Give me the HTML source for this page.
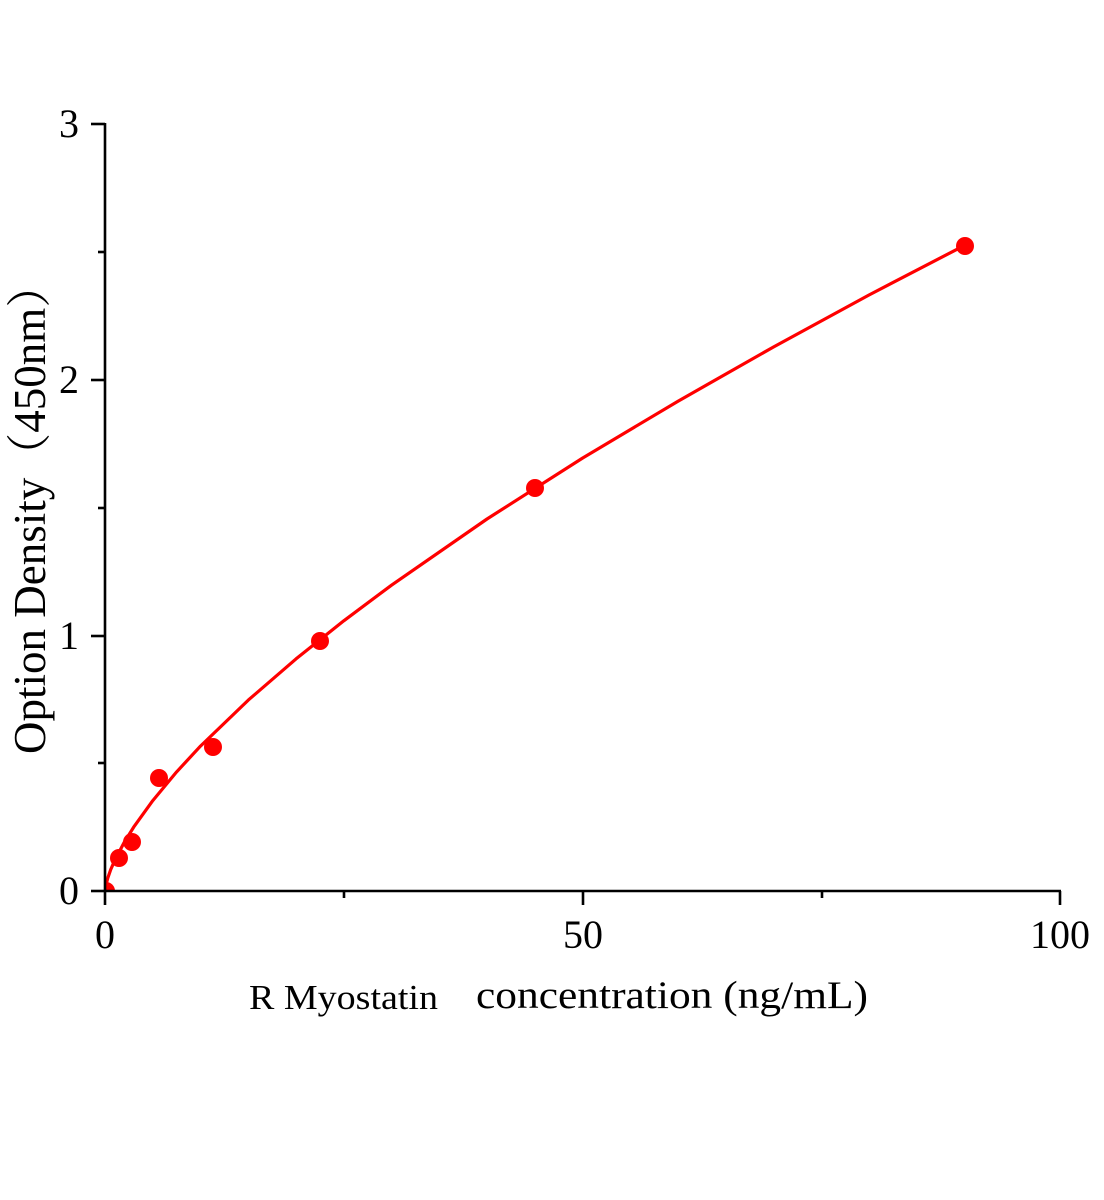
<!DOCTYPE html>
<html>
<head>
<meta charset="utf-8">
<style>
html,body{margin:0;padding:0;background:#fff;}
svg{display:block;}
text{font-family:"Liberation Serif","Noto Serif CJK SC",serif;fill:#000;}
</style>
</head>
<body>
<svg width="1104" height="1200" viewBox="0 0 1104 1200" xmlns="http://www.w3.org/2000/svg">
  <defs>
    <clipPath id="plot"><rect x="105" y="100" width="980" height="791"/></clipPath>
  </defs>
  <rect width="1104" height="1200" fill="#fff"/>
  <g clip-path="url(#plot)">
    <polyline fill="none" stroke="#ff0000" stroke-width="3.2" stroke-linejoin="round" stroke-linecap="round"
      points="105,891 106,884.7 107.9,877.7 110.7,869.6 114.6,860.7 124.1,842.5 133.7,827.1 152.8,800.6 176.6,771.9 200.5,746.1 248.3,700.1 296,658.9 343.8,620.8 391.5,585.2 487,519 582.5,458.1 678,401.2 773.5,347 869,295 964.5,245.4"/>
    <g fill="#ff0000">
      <circle cx="106" cy="891" r="9"/>
      <circle cx="119" cy="858" r="9"/>
      <circle cx="132" cy="842" r="9"/>
      <circle cx="159" cy="778" r="9"/>
      <circle cx="213" cy="747" r="9"/>
      <circle cx="320" cy="641" r="9"/>
      <circle cx="535" cy="488" r="9"/>
      <circle cx="965" cy="246" r="9"/>
    </g>
  </g>
  <g stroke="#000" stroke-width="2.6" fill="none">
    <line x1="105" y1="123" x2="105" y2="892"/>
    <line x1="104" y1="891" x2="1061" y2="891"/>
    <line x1="91" y1="891" x2="105" y2="891"/>
    <line x1="91" y1="636" x2="105" y2="636"/>
    <line x1="91" y1="380" x2="105" y2="380"/>
    <line x1="91" y1="124" x2="105" y2="124"/>
    <line x1="98" y1="763" x2="105" y2="763"/>
    <line x1="98" y1="508" x2="105" y2="508"/>
    <line x1="98" y1="252" x2="105" y2="252"/>
    <line x1="105" y1="891" x2="105" y2="905"/>
    <line x1="583" y1="891" x2="583" y2="905"/>
    <line x1="1060" y1="891" x2="1060" y2="905"/>
    <line x1="344" y1="891" x2="344" y2="898"/>
    <line x1="822" y1="891" x2="822" y2="898"/>
  </g>
  <g font-size="40" text-anchor="end">
    <text x="79" y="904">0</text>
    <text x="79" y="649">1</text>
    <text x="79" y="393">2</text>
    <text x="79" y="137">3</text>
  </g>
  <g font-size="40" text-anchor="middle">
    <text x="105" y="948">0</text>
    <text x="583" y="948">50</text>
    <text x="1060" y="948">100</text>
  </g>
  <text x="249" y="1009" font-size="35" textLength="189" lengthAdjust="spacingAndGlyphs">R Myostatin</text>
  <text x="476" y="1008" font-size="39" textLength="392" lengthAdjust="spacingAndGlyphs">concentration (ng/mL)</text>
  <text transform="translate(45,754) rotate(-90)" font-size="45">Option Density（450nm）</text>
</svg>
</body>
</html>
